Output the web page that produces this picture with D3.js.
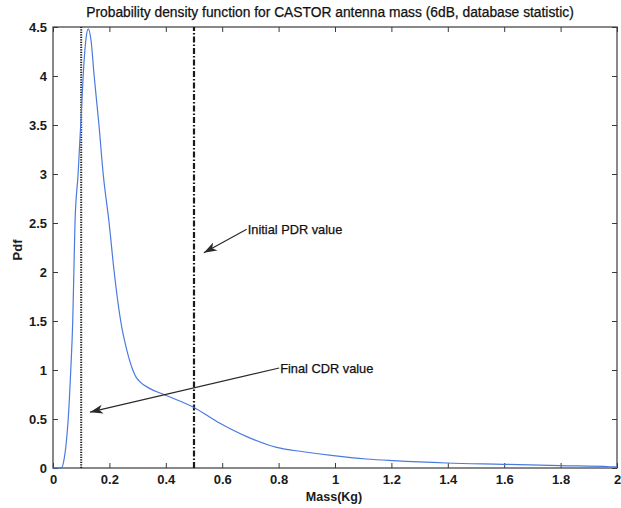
<!DOCTYPE html>
<html>
<head>
<meta charset="utf-8">
<script src="https://cdn.jsdelivr.net/npm/d3@7"></script>
<style>
  body { margin: 0; background: #fff; }
  svg { display: block; font-family: Arial, 'Liberation Sans', sans-serif; }
</style>
</head>
<body>
<div id="chart"></div>
<script>
// pdf curve
const massKg = [0, 0.02, 0.031, 0.04, 0.046, 0.054, 0.063, 0.07, 0.074, 0.078, 0.089, 0.1, 0.107,
  0.117, 0.125, 0.135, 0.146, 0.163, 0.178, 0.199, 0.217, 0.24, 0.262, 0.283, 0.294, 0.305, 0.344, 0.397,
  0.498, 0.592, 0.687, 0.793, 0.888, 0.994, 1.112, 1.207, 1.396, 1.597, 1.798, 1.975, 2.0]
const pdfValues = [0, 0, 0.005, 0.1, 0.23, 0.5, 1.0, 1.5, 2.0, 2.5, 3.0, 3.6, 4.0,
  4.38, 4.48, 4.36, 4.0, 3.5, 3.0, 2.5, 2.0, 1.5, 1.2, 1.0, 0.93, 0.89, 0.81, 0.745,
  0.62, 0.456, 0.32, 0.21, 0.166, 0.126, 0.092, 0.075, 0.051, 0.038, 0.024, 0.013, 0.01]

const xTicks = [0, 0.2, 0.4, 0.6, 0.8, 1, 1.2, 1.4, 1.6, 1.8, 2]
const yTicks = [0, 0.5, 1, 1.5, 2, 2.5, 3, 3.5, 4, 4.5]

const cdrMass = 0.1   // dotted line
const pdrMass = 0.5   // dash-dot line

// annotations: [label, text x, text y, arrow tip x, arrow tip y] in data units
const notes = [
  ['Initial PDR value', 0.687, 2.436, 0.535, 2.197],
  ['Final CDR value', 0.802, 1.02, 0.131, 0.57]
]

const W = 621, H = 508
const margin = { top: 27, right: 4, bottom: 40, left: 53 }
const iw = W - margin.left - margin.right
const ih = H - margin.top - margin.bottom

const svg = d3.select('#chart').append('svg')
  .attr('width', W)
  .attr('height', H)

const defs = svg.append('defs')
defs.append('marker')
  .attr('id', 'head')
  .attr('markerUnits', 'userSpaceOnUse')
  .attr('viewBox', '-14 -6 16 12')
  .attr('markerWidth', 16)
  .attr('markerHeight', 12)
  .attr('refX', 0)
  .attr('refY', 0)
  .attr('orient', 'auto')
  .append('path')
  .attr('d', 'M0,0 L-13,-4.5 L-9.5,0 L-13,4.5 Z')
  .attr('fill', '#2a2a2a')

const g = svg.append('g').attr('transform', `translate(${margin.left},${margin.top})`)

const x = d3.scaleLinear().domain([0, 2]).range([0, iw])
const y = d3.scaleLinear().domain([0, 4.5]).range([ih, 0])

const axisColor = '#3a3a3a'
const fmt = d => String(+d.toFixed(1))

const styleAxis = sel => {
  sel.select('.domain').remove()
  sel.selectAll('line').attr('stroke', axisColor).attr('stroke-width', 1)
  sel.selectAll('text')
    .attr('fill', '#1a1a1a')
    .attr('font-size', 13)
    .attr('font-weight', 'bold')
    .attr('font-family', 'Arial, "Liberation Sans", sans-serif')
}

g.append('g')
  .attr('transform', `translate(0,${ih})`)
  .call(d3.axisBottom(x).tickValues(xTicks).tickFormat(fmt).tickSize(-5).tickPadding(7))
  .call(styleAxis)

g.append('g')
  .call(d3.axisLeft(y).tickValues(yTicks).tickFormat(fmt).tickSize(-5).tickPadding(6))
  .call(styleAxis)

g.append('g')
  .call(d3.axisTop(x).tickValues(xTicks).tickFormat('').tickSize(-5))
  .call(styleAxis)

g.append('g')
  .attr('transform', `translate(${iw},0)`)
  .call(d3.axisRight(y).tickValues(yTicks).tickFormat('').tickSize(-5))
  .call(styleAxis)

g.append('rect')
  .attr('width', iw)
  .attr('height', ih)
  .attr('fill', 'none')
  .attr('stroke', axisColor)
  .attr('stroke-width', 1.2)

// reference lines
g.append('line')
  .attr('x1', x(cdrMass)).attr('x2', x(cdrMass))
  .attr('y1', y(0)).attr('y2', y(4.5))
  .attr('stroke', '#1a1a1a')
  .attr('stroke-width', 2)
  .attr('stroke-dasharray', '1.2,1.3')

g.append('line')
  .attr('x1', x(pdrMass)).attr('x2', x(pdrMass))
  .attr('y1', y(0)).attr('y2', y(4.5))
  .attr('stroke', '#1a1a1a')
  .attr('stroke-width', 2.2)
  .attr('stroke-dasharray', '6,2,1.5,2')

// pdf curve
const pts = massKg.map((m, i) => [m, pdfValues[i]])
const line = d3.line()
  .x(d => x(d[0]))
  .y(d => y(d[1]))
  .curve(d3.curveMonotoneX)

g.append('path')
  .datum(pts)
  .attr('d', line)
  .attr('fill', 'none')
  .attr('stroke', '#4a7ae0')
  .attr('stroke-width', 1.2)

// annotations
notes.forEach(([label, tx, ty, ax, ay]) => {
  g.append('line')
    .attr('x1', x(tx)).attr('y1', y(ty))
    .attr('x2', x(ax)).attr('y2', y(ay))
    .attr('stroke', '#2a2a2a')
    .attr('stroke-width', 1.2)
    .attr('marker-end', 'url(#head)')
  g.append('text')
    .attr('x', x(tx) + 1)
    .attr('y', y(ty) + 4.5)
    .attr('font-size', 12.8)
    .attr('fill', '#111')
    .attr('stroke', '#111')
    .attr('stroke-width', 0.25)
    .text(label)
})

// titles
svg.append('text')
  .attr('x', 330)
  .attr('y', 17)
  .attr('text-anchor', 'middle')
  .attr('font-size', 13.8)
  .attr('fill', '#111')
  .attr('stroke', '#111')
  .attr('stroke-width', 0.25)
  .text('Probability density function for CASTOR antenna mass (6dB, database statistic)')

svg.append('text')
  .attr('x', 334)
  .attr('y', 501)
  .attr('text-anchor', 'middle')
  .attr('font-size', 12.5)
  .attr('font-weight', 'bold')
  .attr('fill', '#1a1a1a')
  .text('Mass(Kg)')

svg.append('text')
  .attr('transform', 'translate(22,250) rotate(-90)')
  .attr('text-anchor', 'middle')
  .attr('font-size', 13)
  .attr('font-weight', 'bold')
  .attr('fill', '#1a1a1a')
  .text('Pdf')
</script>
</body>
</html>
